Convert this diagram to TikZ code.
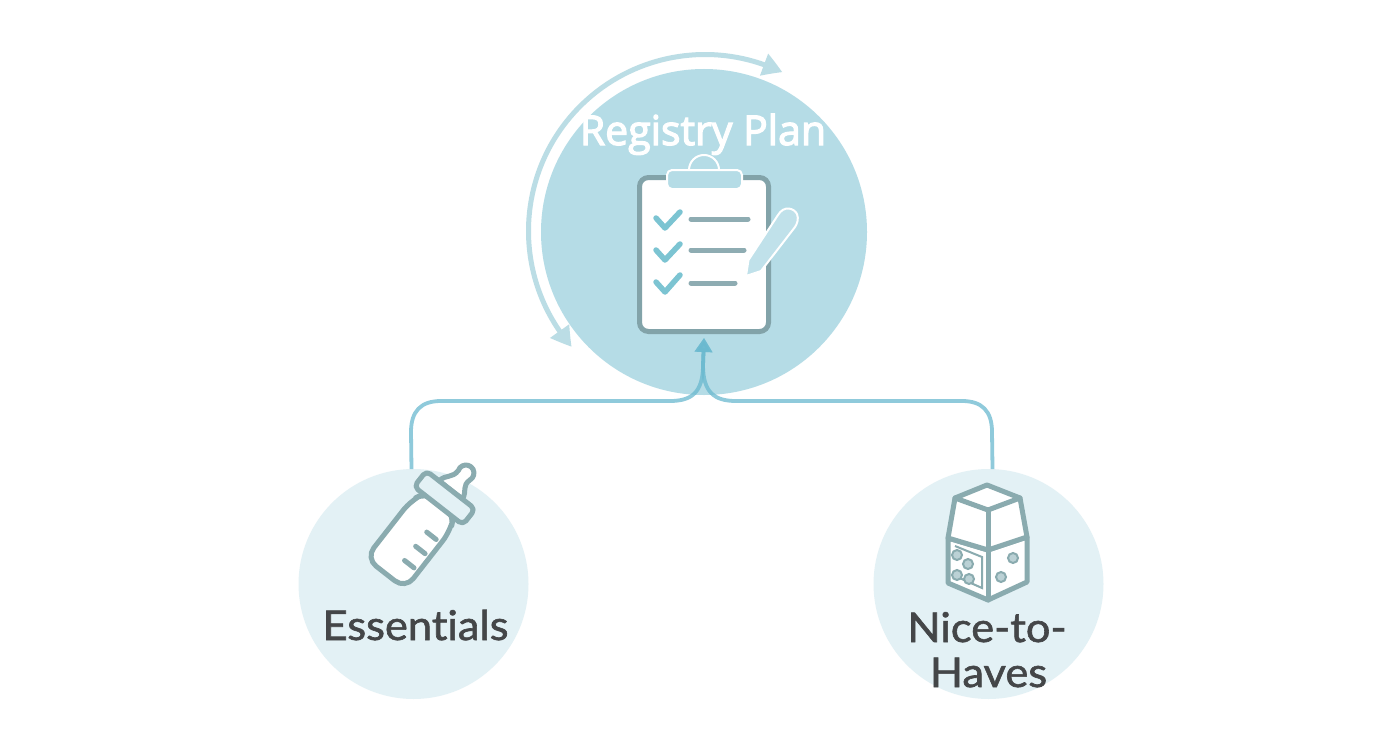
\documentclass[tikz,border=0pt]{standalone}
\usepackage{fontspec}
\setmainfont{Lato}[Ligatures=NoCommon,FakeBold=1.5,FakeStretch=1.06]
\newfontfamily\planfont{Open Sans}[FakeBold=3]
\usetikzlibrary{arrows.meta,bending}
\definecolor{planblue}{HTML}{B5DCE6}
\definecolor{paleblue}{HTML}{E3F1F5}
\definecolor{arcblue}{HTML}{BBDDE5}
\definecolor{linkblue}{HTML}{6AB9CF}
\definecolor{checkblue}{HTML}{7CC4D2}
\definecolor{iconline}{HTML}{8AABAF}
\definecolor{boardline}{HTML}{82A3A9}
\definecolor{inktext}{HTML}{444648}
\tikzset{
  x=1pt,y=-1pt,
  bigcircle/.style={circle,fill=planblue,minimum size=326pt,inner sep=0pt,outer sep=0pt},
  smallcircle/.style={circle,fill=paleblue,minimum size=230pt,inner sep=0pt,outer sep=0pt},
  link/.style={draw=linkblue,line width=3.8pt,opacity=.75,-{Triangle[length=14pt,width=17pt]}},
  looparc/.style={draw=arcblue,line width=5pt,{Triangle[length=20pt,width=22pt,bend]}-{Triangle[length=20pt,width=22pt,bend]}},
  icon/.style={draw=iconline,line width=5pt,line join=round,line cap=round},
  tick/.style={draw=iconline,line width=5pt,line cap=round},
  checkmark/.style={draw=checkblue,line width=5.5pt,line cap=round,line join=round},
  rowline/.style={draw=boardline!90!white,line width=5pt,line cap=round},
  lighticon/.style={fill=planblue,draw=white,line width=2pt,line join=round},
  label/.style={anchor=base,inner sep=0pt,text=inktext,font=\fontsize{41}{46}\selectfont},
  dot/.style={fill=iconline!45!paleblue,draw=iconline,line width=2pt,circle,inner sep=0pt,minimum size=10pt},
}
\begin{document}
\begin{tikzpicture}
\useasboundingbox (0,0) rectangle (1392,752);
\fill[white] (0,0) rectangle (1392,752);
% circles
\node[bigcircle] (plan) at (704,232) {};
\node[smallcircle] (ess) at (413.5,584) {};
\node[smallcircle] (nice) at (988.5,584) {};
% loop arrow
\coordinate (loopc) at (705,231);
\draw[looparc] ([shift={(221:176.5pt)}]loopc) arc[start angle=221,end angle=64,radius=176.5pt];
% clipboard
\node[draw=boardline,fill=white,line width=5pt,rounded corners=9pt,minimum width=129pt,minimum height=154pt,inner sep=0pt,outer sep=0pt] (board) at (704,254.5) {};
% connectors
\draw[link] (ess.91.2) -- (411,432) .. controls (411,411) and (421,401) .. (441,401) -- (670,401) .. controls (692,401) and (703,392) .. (703,365) -- ([yshift=-6.5pt]board.south);
\draw[link] (nice.88.3) -- (992,432) .. controls (992,411) and (982,401) .. (962,401) -- (736,401) .. controls (714,401) and (703,392) .. (703,365) -- ([yshift=-6.5pt]board.south);
% clip
\path[lighticon] (704,170) circle (15pt);
\path[lighticon,rounded corners=5pt] (667,170) rectangle (742,189);
% checks and rows
\draw[checkmark] (656,218) -- (665,228) -- (680,212);
\draw[checkmark] (656,250) -- (665,260) -- (680,244);
\draw[checkmark] (656,282) -- (665,292) -- (680,275);
\draw[rowline] (691,219) -- (748,219);
\draw[rowline] (691,250) -- (744,250);
\draw[rowline] (691,283) -- (735,283);
% pencil
\path[fill=planblue!85!white,draw=white,line width=2pt,line join=round] (746,276) -- (748.5,260) -- (778,215) .. controls (784,205) and (794,208) .. (797,214) .. controls (799,219) and (797,224) .. (795,227) -- (761,271) -- cycle;
% Registry Plan
\node[anchor=base,inner sep=0pt,text=white,font=\planfont\fontsize{41}{46}\selectfont] (plantext) at (703,145) {Registry Plan};
% bottle
\begin{scope}[shift={(385.5,573.5)},rotate=-38]
  \path[icon,fill=white] (-15,-106) .. controls (-13,-116) and (-6,-116) .. (-6,-126) arc[start angle=200,end angle=-20,radius=8pt] .. controls (6,-116) and (13,-116) .. (15,-106) -- cycle;
  \path[icon,fill=white,rounded corners=13pt] (-25,0) -- (25,0) -- (25,-74) -- (17,-90) -- (-17,-90) -- (-25,-74) -- cycle;
  \path[icon,fill=paleblue,rounded corners=5pt] (-31,-86) rectangle (31,-106);
  \draw[tick] (7,-22) -- (19,-22);
  \draw[tick] (7,-40) -- (19,-40);
  \draw[tick] (7,-58) -- (19,-58);
\end{scope}
\node[label] (esstext) at (415.5,640) {Essentials};
% blocks
\path[icon,fill=white] (948,583) -- (948,538) -- (988,550) -- (1027,537) -- (1027,582) -- (988,600) -- cycle;
\path[icon,fill=white] (955,498) -- (987,485) -- (1020,498) -- (1027,537) -- (988,550) -- (948,538) -- cycle;
\draw[icon] (955,498) -- (988,510) -- (1020,498);
\draw[icon] (988,510) -- (988,600);
\draw[draw=iconline,line width=2pt] (955,546) -- (982,557) -- (982,588) -- (955,576);
\node[dot] (d1) at (957,555) {};
\node[dot] (d2) at (968,564) {};
\node[dot] (d3) at (957,575) {};
\node[dot] (d4) at (969,579) {};
\node[dot] (d5) at (1013,558) {};
\node[dot] (d6) at (1001,577) {};
\node[label] (nicetext) at (987,642) {Nice-to-};
\node[label] (havestext) at (988.5,687) {Haves};
\end{tikzpicture}
\end{document}
